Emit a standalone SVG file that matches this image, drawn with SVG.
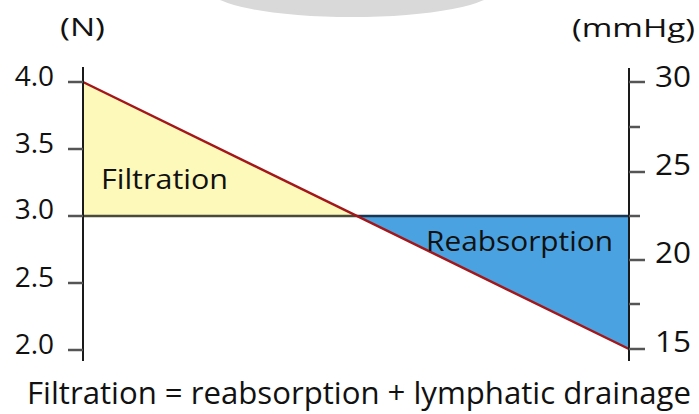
<svg xmlns="http://www.w3.org/2000/svg" width="699" height="414" viewBox="0 0 699 414">
<style>
.t{font-family:"Open Sans","Noto Sans","Liberation Sans",Arial,sans-serif;fill:#111;}
.ax{stroke:#1a1a1a;stroke-width:2;fill:none;}
.tk{stroke:#555;stroke-width:2.5;}
</style>
<rect width="699" height="414" fill="#ffffff"/>
<ellipse id="watermark" cx="352" cy="-10" rx="142" ry="27" fill="#d9d9d9"/>
<g id="areas">
<polygon id="filtration-area" points="83,82 83,216 357,216" fill="#fdf9bb"/>
<polygon id="reabsorption-area" points="357,216 629,216 629,349" fill="#4aa3e0"/>
</g>
<g id="connectors">
<line x1="83" y1="216" x2="357" y2="216" stroke="#4a4a3a" stroke-width="2.5"/>
<line x1="357" y1="216" x2="629" y2="216" stroke="#1c3550" stroke-width="2.5"/>
<line x1="83" y1="82" x2="629" y2="349" stroke="#a3161a" stroke-width="2.5"/>
</g>
<g id="left-axis">
<line class="ax" x1="83" y1="67" x2="83" y2="361"/>
<line class="tk" x1="68" y1="82" x2="83" y2="82"/>
<line class="tk" x1="68" y1="149" x2="83" y2="149"/>
<line class="tk" x1="68" y1="216" x2="83" y2="216"/>
<line class="tk" x1="68" y1="283" x2="83" y2="283"/>
<line class="tk" x1="68" y1="350" x2="83" y2="350"/>
<text class="t" x="60" y="36" font-size="26" textLength="45" lengthAdjust="spacingAndGlyphs">(N)</text>
<text class="t" x="54" y="86" font-size="28" text-anchor="end">4.0</text>
<text class="t" x="54" y="153" font-size="28" text-anchor="end">3.5</text>
<text class="t" x="54" y="219" font-size="28" text-anchor="end">3.0</text>
<text class="t" x="54" y="287" font-size="28" text-anchor="end">2.5</text>
<text class="t" x="54" y="354" font-size="28" text-anchor="end">2.0</text>
</g>
<g id="right-axis">
<line class="ax" x1="629" y1="68" x2="629" y2="361"/>
<line class="tk" x1="629" y1="82" x2="645" y2="82"/>
<line class="tk" x1="629" y1="127" x2="640" y2="127"/>
<line class="tk" x1="629" y1="172" x2="645" y2="172"/>
<line class="tk" x1="629" y1="216" x2="640" y2="216"/>
<line class="tk" x1="629" y1="260" x2="645" y2="260"/>
<line class="tk" x1="629" y1="304" x2="640" y2="304"/>
<line class="tk" x1="629" y1="349" x2="645" y2="349"/>
<text class="t" x="572" y="37" font-size="26" textLength="123" lengthAdjust="spacingAndGlyphs">(mmHg)</text>
<text class="t" x="655" y="87" font-size="29" textLength="36" lengthAdjust="spacingAndGlyphs">30</text>
<text class="t" x="655" y="175" font-size="29" textLength="36" lengthAdjust="spacingAndGlyphs">25</text>
<text class="t" x="655" y="263" font-size="29" textLength="36" lengthAdjust="spacingAndGlyphs">20</text>
<text class="t" x="655" y="352" font-size="29" textLength="36" lengthAdjust="spacingAndGlyphs">15</text>
</g>
<g id="filtration-label">
<text class="t" x="101" y="189" font-size="27" textLength="127" lengthAdjust="spacingAndGlyphs">Filtration</text>
</g>
<g id="reabsorption-label">
<text class="t" x="426" y="251" font-size="28" textLength="187" lengthAdjust="spacingAndGlyphs">Reabsorption</text>
</g>
<g id="caption">
<text class="t" x="27" y="404" font-size="31" textLength="664" lengthAdjust="spacingAndGlyphs">Filtration = reabsorption + lymphatic drainage</text>
</g>
</svg>
